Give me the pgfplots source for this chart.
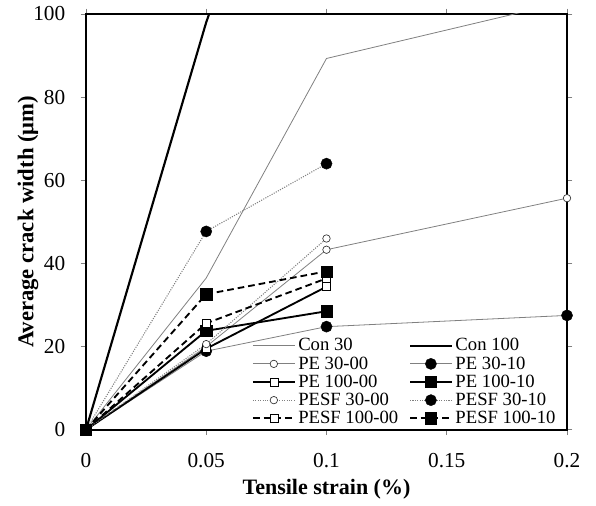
\documentclass[border=0pt]{standalone}
\usepackage{fontspec}
\setmainfont{LiberationSerif}[Extension=.ttf, UprightFont=*-Regular, BoldFont=*-Bold, ItalicFont=*-Italic, BoldItalicFont=*-BoldItalic]
\usepackage{pgfplots}
\pgfplotsset{compat=1.18}
\begin{document}
\begin{tikzpicture}
\begin{axis}[
  scale only axis,
  width=361pt, height=312pt,
  xmin=0, xmax=0.2, ymin=0, ymax=100,
  xtick={0,0.05,0.1,0.15,0.2},
  xticklabels={0,0.05,0.1,0.15,0.2},
  ytick={0,20,40,60,80,100},
  tick align=outside,
  tick style={gray, line width=0.5pt},
  major tick length=4pt,
  axis line style={black, line width=1.4pt},
  ticklabel style={font=\fontsize{16}{16}\selectfont},
  xticklabel style={yshift=-10pt},
  yticklabel style={xshift=-8pt},
  /pgf/number format/assume math mode=true,
  xlabel={\textbf{Tensile strain (\%)}},
  ylabel={\textbf{Average crack width (μm)}},
  xlabel style={font=\fontsize{16.5}{17}\selectfont, at={(axis description cs:0.5,-0.144)}, anchor=center},
  ylabel style={font=\fontsize{17}{17}\selectfont, at={(axis description cs:-0.1205,0.5)}, anchor=center},
  legend columns=2,
  legend cell align=left,
  legend style={draw=none, fill=none, at={(0.985,0.0)}, anchor=south east,
    font=\fontsize{14}{14}\selectfont, row sep=-1.2pt, inner sep=1pt,
    /tikz/every even column/.append style={column sep=6pt}},
  legend image code/.code={
    \draw[mark repeat=2,mark phase=2,#1] plot coordinates {(0cm,0cm) (0.55cm,0cm) (1.1cm,0cm)};
  },
]
% Con 30
\addplot[gray, line width=0.6pt] coordinates {(0,0) (0.05,36.5) (0.1,89.3) (0.2,103)};
\addlegendentry{Con 30}
% Con 100
\addplot[black, line width=1.6pt] coordinates {(0,0) (0.05,98) (0.1,180)};
\addlegendentry{Con 100}
% PE 30-00
\addplot[gray, line width=0.6pt, mark=*, mark size=2.8pt, mark options={fill=white, draw=black!80, line width=0.5pt}] coordinates {(0,0) (0.05,20) (0.1,43.3) (0.2,55.7)};
\addlegendentry{PE 30-00}
% PE 30-10
\addplot[gray, line width=0.6pt, mark=*, mark size=4.2pt, mark options={fill=black, draw=black, solid, line width=0.3pt}] coordinates {(0,0) (0.05,18.9) (0.1,24.8) (0.2,27.5)};
\addlegendentry{PE 30-10}
% PE 100-00
\addplot[black, line width=1.4pt, mark=square*, mark size=3pt, mark options={fill=white, draw=black, line width=0.5pt}] coordinates {(0,0) (0.05,19.5) (0.1,34.4)};
\addlegendentry{PE 100-00}
% PE 100-10
\addplot[black, line width=1.4pt, mark=square*, mark size=4.2pt, mark options={fill=black, solid, line width=0.3pt}] coordinates {(0,0) (0.05,23.8) (0.1,28.5)};
\addlegendentry{PE 100-10}
% PESF 30-00
\addplot[gray, line width=0.8pt, densely dotted, mark=*, mark size=2.8pt, mark options={fill=white, draw=black!80, solid, line width=0.5pt}] coordinates {(0,0) (0.05,20.6) (0.1,46)};
\addlegendentry{PESF 30-00}
% PESF 30-10
\addplot[gray, line width=0.8pt, densely dotted, mark=*, mark size=4.2pt, mark options={fill=black, draw=black, solid, line width=0.3pt}] coordinates {(0,0) (0.05,47.7) (0.1,64)};
\addlegendentry{PESF 30-10}
% PESF 100-00
\addplot[black, line width=1.4pt, dash pattern=on 5pt off 3pt, mark=square*, mark size=3pt, mark options={fill=white, draw=black, solid, line width=0.5pt}] coordinates {(0,0) (0.05,25.6) (0.1,36.4)};
\addlegendentry{PESF 100-00}
% PESF 100-10
\addplot[black, line width=1.4pt, dash pattern=on 5pt off 3pt, mark=square*, mark size=4.2pt, mark options={fill=black, solid, line width=0.3pt}] coordinates {(0,0) (0.05,32.6) (0.1,38.1)};
\addlegendentry{PESF 100-10}
\end{axis}
\pgfresetboundingbox
\path[use as bounding box] ([xshift=-64.5pt,yshift=-57pt]current axis.south west) rectangle ([xshift=21.75pt,yshift=10.5pt]current axis.north east);
\end{tikzpicture}
\end{document}
